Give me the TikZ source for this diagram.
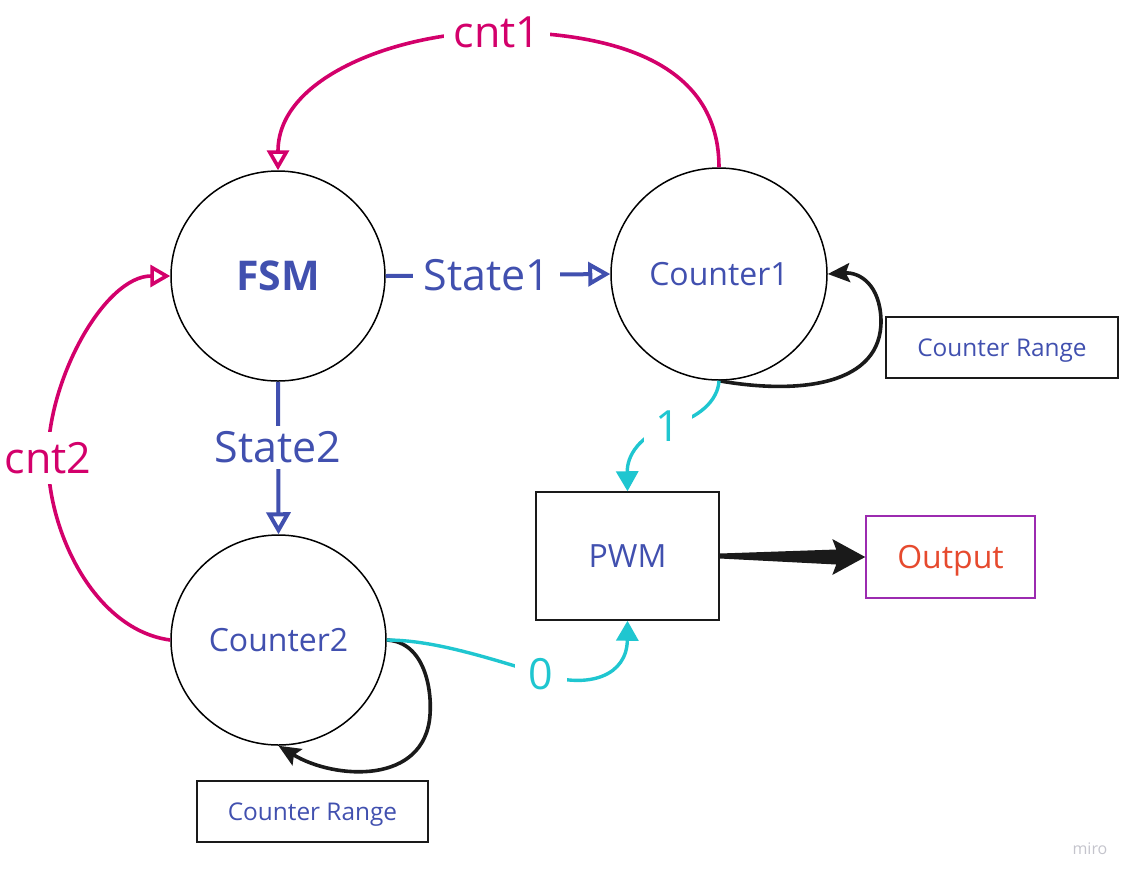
\documentclass[tikz,border=0pt]{standalone}
\usepackage{fontspec}
\setmainfont{Open Sans}
\usetikzlibrary{shapes.geometric,arrows.meta,calc}
\definecolor{blu}{HTML}{4150AF}
\definecolor{mag}{HTML}{D3006B}
\definecolor{cya}{HTML}{1FC6D0}
\definecolor{outred}{HTML}{E64A2E}
\definecolor{outpur}{HTML}{9C2BB0}
\definecolor{blk}{HTML}{1A1A1A}
\definecolor{mirogrey}{HTML}{C4C4CC}
\begin{document}
\begin{tikzpicture}[x=0.5pt,y=-0.5pt,
  circ/.style={ellipse,draw=black,line width=0.75pt,inner sep=0pt,text=blu,font=\fontsize{16}{19}\selectfont},
  boxnode/.style={rectangle,draw=blk,line width=0.75pt,inner sep=0pt,text=blu},
  lab/.style={fill=white,inner sep=5pt},
  bigfont/.style={font=\fontsize{21.5}{25}\selectfont},
  magline/.style={draw=mag,line width=1.8pt,-{Triangle[open,length=10pt,width=11pt]}},
  bluline/.style={draw=blu,line width=2pt,-{Triangle[open,length=11pt,width=12pt]}},
  cyaline/.style={draw=cya,line width=1.7pt,-{Triangle[length=10pt,width=11pt]}},
  loopline/.style={draw=blk,line width=1.8pt,-{Stealth[length=11pt,width=9.5pt,inset=2pt]}}
]
\useasboundingbox (0,0) rectangle (1135,880);

% nodes
\node[circ,minimum width=107pt,minimum height=105pt,font=\fontsize{20.5}{24}\selectfont\bfseries] (fsm) at (278,276) {FSM};
\node[circ,minimum width=108pt,minimum height=106pt] (c1) at (719,274) {Counter1};
\node[circ,minimum width=107.5pt,minimum height=105pt] (c2) at (278.5,640) {Counter2};
\node[boxnode,minimum width=91.5pt,minimum height=64pt,font=\fontsize{16}{19}\selectfont] (pwm) at (627.5,556) {PWM};
\node[boxnode,draw=outpur,text=outred,minimum width=84.5pt,minimum height=41pt,text depth=0pt,font=\fontsize{16}{19}\selectfont] (out) at (950.5,557) {Output};
\node[boxnode,minimum width=116pt,minimum height=30.5pt,text depth=0pt,font=\fontsize{12.2}{15}\selectfont] (cr1) at (1002,347.5) {Counter Range};
\node[boxnode,minimum width=115.5pt,minimum height=30.5pt,text depth=0pt,font=\fontsize{12.2}{15}\selectfont] (cr2) at (312.5,811.5) {Counter Range};
\node[text=mirogrey,font=\fontsize{8}{10}\selectfont] (miro) at (1090,849) {miro};

% cnt1
\draw[magline] (c1.north) .. controls +(0,-115) and +(95,0) .. (497,32)
  node[lab,bigfont,text=mag] (lcnt1) {cnt1}
  .. controls +(-95,0) and +(0,-95) .. (fsm.north);
% cnt2
\draw[magline] (c2.west) .. controls +(-75,-10) and +(0,75) .. (48,458)
  node[lab,bigfont,text=mag] (lcnt2) {cnt2}
  .. controls +(0,-80) and +(-65,0) .. (fsm.west);
% states
\draw[bluline] (fsm.east) -- node[lab,bigfont,text=blu,pos=0.45] (ls1) {State1} (c1.west);
\draw[bluline] (fsm.south) -- node[lab,bigfont,text=blu,pos=0.43,inner sep=3pt] (ls2) {State2} (c2.north);
% loops
\draw[loopline] (c1.south) .. controls (800,395) and (882,385) .. (881,320)
  .. controls (880,285) and (860,272) .. (c1.east);
\draw[loopline] (c2.east) .. controls (425,642) and (432,690) .. (430,715)
  .. controls (425,785) and (335,780) .. (c2.south);
% cyan
\draw[cyaline] (c1.south) .. controls (718,400) and (700,418) .. (668,426)
  node[lab,bigfont,text=cya,inner sep=6pt] (l1) {1}
  .. controls (640,436) and (627,455) .. (pwm.north);
\draw[cyaline] (c2.east) .. controls (430,640) and (480,655) .. (541,674)
  node[lab,bigfont,text=cya,inner sep=7pt] (l0) {0}
  .. controls (590,690) and (627,675) .. (pwm.south);
% thick output arrow
\fill[blk] ($(pwm.east)+(0,-2.5)$) -- ($(out.west)+(-29,-7.5)$) -- ($(out.west)+(-33,-18)$)
  -- (out.west) -- ($(out.west)+(-33,18)$) -- ($(out.west)+(-29,7.5)$) -- ($(pwm.east)+(0,2.5)$) -- cycle;
\end{tikzpicture}
\end{document}
